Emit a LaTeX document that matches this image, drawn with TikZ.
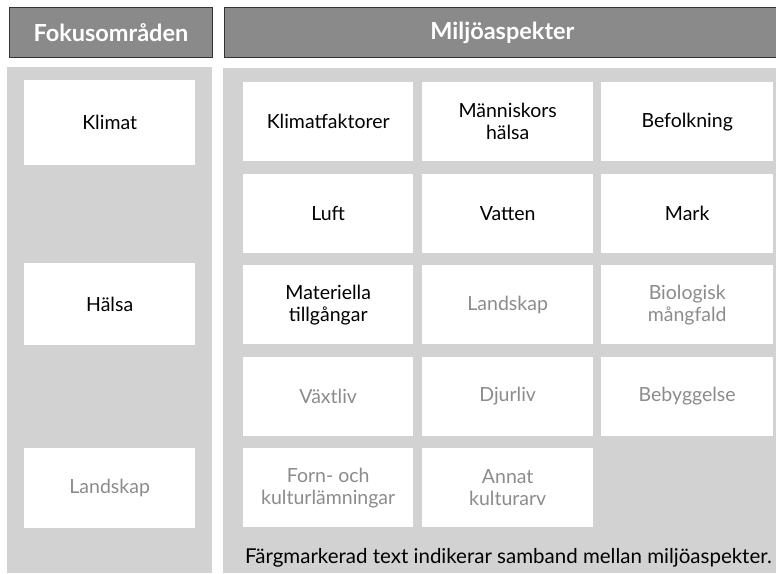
\documentclass[tikz,border=0pt]{standalone}
\usepackage{fontspec}
\setmainfont{Lato}
\definecolor{panelbg}{HTML}{D2D2D2}
\definecolor{headbg}{HTML}{8A8A8A}
\definecolor{softtext}{HTML}{8C8C8C}
\begin{document}
\begin{tikzpicture}[x=1pt,y=-1pt,
  panel/.style={fill=panelbg, draw=none},
  header/.style={fill=headbg, draw=black!80, line width=0.8pt, text=white, font=\fontsize{23.5}{26}\selectfont\bfseries},
  cell/.style={fill=white, draw=none, anchor=north west, inner sep=2pt, align=center, font=\fontsize{19.5}{22}\selectfont},
  strong/.style={text=black},
  soft/.style={text=softtext},
]
\useasboundingbox (0,0) rectangle (776,573);
\fill[white] (0,0) rectangle (776,573);
% panels
\node[panel, anchor=north west, minimum width=205, minimum height=506, inner sep=0] (lpanel) at (7,67) {};
\node[panel, anchor=north west, minimum width=553, minimum height=505, inner sep=0] (rpanel) at (223,68) {};
% headers
\node[header, anchor=north west, minimum width=203, minimum height=50, inner sep=0] (lhead) at (9,7) {Fokusområden};
\node[header, anchor=north west, minimum width=556, minimum height=50, inner sep=0] (rhead) at (224,7) {Miljöaspekter};
% left boxes
\node[cell, strong, minimum width=171, minimum height=85] (klimat) at (24,80) {Klimat};
\node[cell, strong, minimum width=171, minimum height=82] (halsa) at (24,263) {Hälsa};
\node[cell, soft, minimum width=171, minimum height=80] (landskapL) at (24,448) {Landskap};
% grid
\tikzset{c1/.style={cell, minimum width=170, minimum height=79},
         c2/.style={cell, minimum width=171, minimum height=79},
         c3/.style={cell, minimum width=172, minimum height=79}}
\node[c1, strong] (klimatf) at (243,82) {Klimatfaktorer};
\node[c2, strong] (manniskor) at (422,82) {Människors\\hälsa};
\node[c3, strong] (befolkning) at (601,82) {Befolkning};
\node[c1, strong] (luft) at (243,173.5) {Luft};
\node[c2, strong] (vatten) at (422,173.5) {Vatten};
\node[c3, strong] (mark) at (601,173.5) {Mark};
\node[c1, strong] (materiella) at (243,265) {Materiella\\tillgångar};
\node[c2, soft] (landskapR) at (422,265) {Landskap};
\node[c3, soft] (biologisk) at (601,265) {Biologisk\\mångfald};
\node[c1, soft] (vaxtliv) at (243,356.5) {Växtliv};
\node[c2, soft] (djurliv) at (422,356.5) {Djurliv};
\node[c3, soft] (bebyggelse) at (601,356.5) {Bebyggelse};
\node[c1, soft] (forn) at (243,448) {Forn- och\\kulturlämningar};
\node[c2, soft] (annat) at (422,448) {Annat\\kulturarv};
% footer
\node[font=\fontsize{20.5}{22}\selectfont, text=black, inner sep=0] (footer) at (508.5,558) {Färgmarkerad text indikerar samband mellan miljöaspekter.};
\end{tikzpicture}
\end{document}
